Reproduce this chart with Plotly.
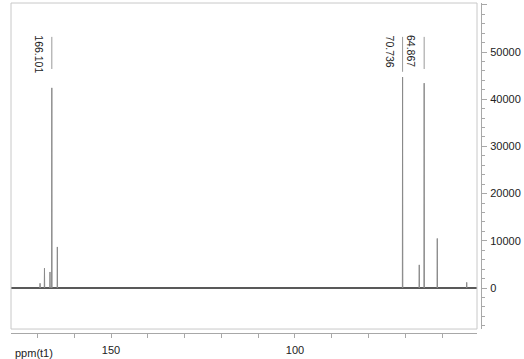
import plotly.graph_objects as go

# peak list (ppm, intensity)
peak_ppm = [169.3, 168.1, 166.6, 166.101, 164.6, 70.736, 66.2, 64.867, 61.3, 53.3]
peak_height = [1000, 4200, 3400, 42400, 8700, 44700, 4900, 43400, 10500, 1200]

# labelled peaks
label_ppm = [166.101, 70.736, 64.867]
label_text = ["166.101", "70.736", "64.867"]
label_top = [54000, 54000, 54000]
leader_top = [53200, 53200, 53200]
leader_bottom = [46400, 45800, 46400]

x_range = [177.2, 50.5]
y_range = [-8690, 60380]

# build stick spectrum from peak list
w = 0.06
xs, ys = [], []
for p, h in sorted(zip(peak_ppm, peak_height), reverse=True):
    xs += [p + w, p, p - w, None]
    ys += [0, h, 0, None]

fig = go.Figure()
fig.add_trace(go.Scatter(x=[x_range[0], x_range[1]], y=[0, 0], mode="lines",
                         line=dict(color="#222222", width=1.6), hoverinfo="skip"))
fig.add_trace(go.Scatter(x=xs, y=ys, mode="lines",
                         line=dict(color="#8a8a8a", width=1), connectgaps=False))

shapes = [dict(type="rect", xref="x domain", yref="y domain", x0=0, x1=1, y0=0, y1=1,
               line=dict(color="#c8c8c8", width=1))]
annotations = []
for p, t, ty, t0, t1 in zip(label_ppm, label_text, label_top, leader_top, leader_bottom):
    shapes.append(dict(type="line", xref="x", yref="y", x0=p, x1=p, y0=t1, y1=t0,
                       line=dict(color="#9a9a9a", width=1)))
    annotations.append(dict(x=p, y=ty, xref="x", yref="y", text=t, textangle=90,
                            showarrow=False, xanchor="right", yanchor="top", xshift=-5,
                            font=dict(size=10.5, color="#222222", family="Liberation Sans, Arial")))
annotations.append(dict(x=0, y=0, xref="paper", yref="paper", text="ppm(t1)", showarrow=False,
                        xanchor="left", yanchor="top", xshift=2, yshift=-12,
                        font=dict(size=11, color="#222222", family="Liberation Sans, Arial")))

fig.update_layout(
    width=524, height=359,
    margin=dict(l=11, r=43, t=3, b=26, autoexpand=False),
    paper_bgcolor="white", plot_bgcolor="white",
    showlegend=False,
    shapes=shapes, annotations=annotations,
    font=dict(family="Liberation Sans, Arial", size=11, color="#222222"),
    xaxis=dict(range=x_range, domain=[0, 0.9915], anchor="free", position=0,
               showgrid=False, zeroline=False, showline=True, linecolor="#a8a8a8", linewidth=1,
               tickmode="linear", tick0=0, dtick=50, ticks="outside", ticklen=4,
               tickcolor="#a8a8a8", tickfont=dict(size=11), ticklabelstandoff=3,
               minor=dict(dtick=10, tick0=0, ticks="outside", ticklen=4, tickcolor="#a8a8a8")),
    yaxis=dict(range=y_range, domain=[0.012, 1], side="right", anchor="free", position=1,
               showgrid=False, zeroline=False, showline=True, linecolor="#a8a8a8", linewidth=1,
               tickmode="linear", tick0=0, dtick=10000, tickformat="d", ticks="outside", ticklen=5,
               tickcolor="#a8a8a8", tickfont=dict(size=11), ticklabelstandoff=1,
               minor=dict(dtick=2000, tick0=0, ticks="outside", ticklen=3, tickcolor="#a8a8a8")),
)
fig.write_html("out.html", config={"displayModeBar": False},
               post_script="document.body.style.margin='0';document.body.style.overflow='hidden';")
